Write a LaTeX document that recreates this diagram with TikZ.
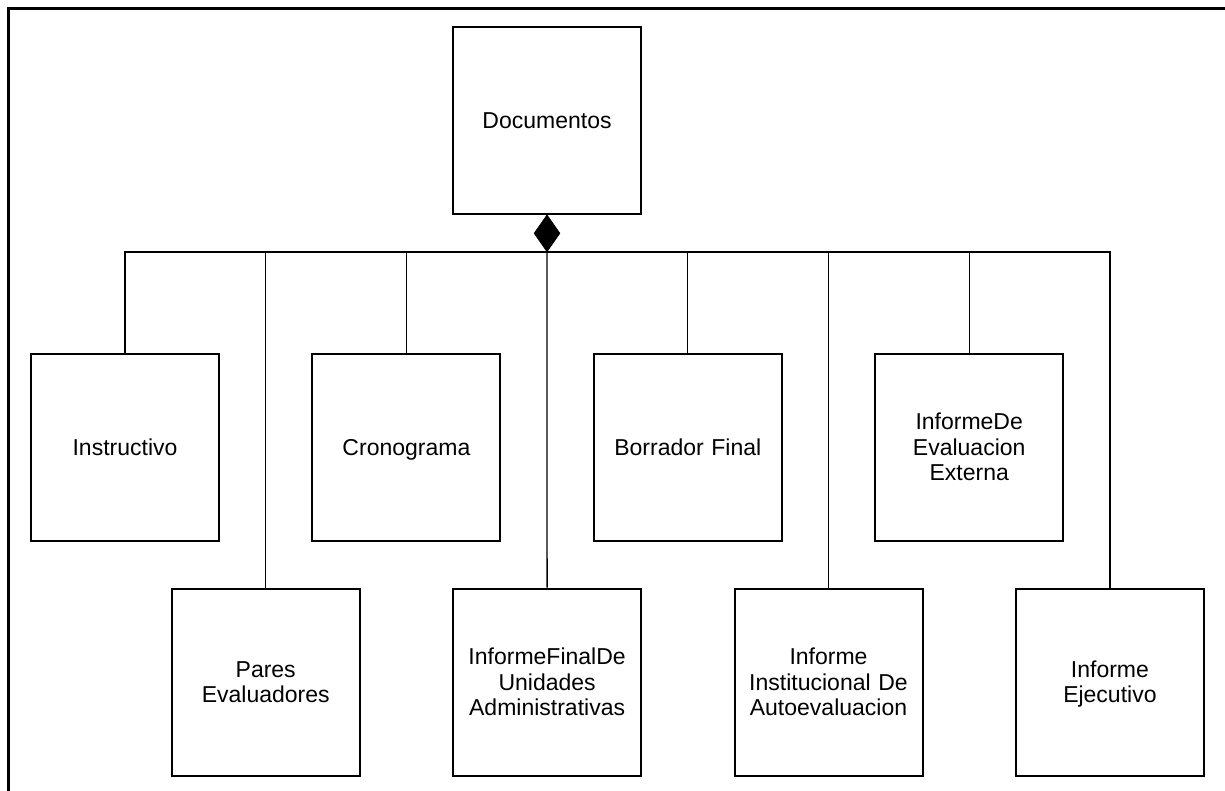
\documentclass[tikz,border=0pt]{standalone}
\usepackage{fontspec}
\setmainfont{Liberation Sans}
\usetikzlibrary{shapes.geometric}
\begin{document}
\begin{tikzpicture}[x=1pt,y=-1pt,
  cls/.style={draw, line width=2pt, minimum width=188pt, minimum height=187pt, inner sep=2pt,
    align=center, font=\fontsize{23}{25.5}\selectfont, text width=184pt,
    execute at begin node={\rule{0pt}{23.8pt}}, execute at end node={\strut}},
  link/.style={line width=1.3pt},
  agg/.style={diamond, fill=black, draw=black, line width=0.6pt, inner sep=0pt, minimum width=26pt, minimum height=37pt}]
\useasboundingbox (0,0) rectangle (1225,790);
\draw[line width=3pt] (8,800) -- (8,8) -- (1235,8);
\node[cls] (doc) at (547,120) {Documentos};
\node[agg, anchor=north] (dia) at (doc.south) {};
\node[cls] (inst) at (125,447) {Instructivo};
\node[cls] (cron) at (406.4,447) {Cronograma};
\node[cls] (borr) at (687.8,447) {Borrador Final};
\node[cls] (ext) at (969.2,447) {InformeDe\\Evaluacion\\Externa};
\node[cls] (pares) at (265.7,682) {Pares\\Evaluadores};
\node[cls] (ifin) at (547.1,682) {InformeFinalDe\\Unidades\\Administrativas};
\node[cls] (iinst) at (828.5,682) {Informe\\Institucional De\\Autoevaluacion};
\node[cls] (ejec) at (1109.9,682) {Informe\\Ejecutivo};
\foreach \n in {inst,cron,borr,ext,pares,iinst,ejec}
  \draw[link] (\n.north) |- (dia.south);
\draw[link] (ifin.north) -- (dia.south);
\end{tikzpicture}
\end{document}
